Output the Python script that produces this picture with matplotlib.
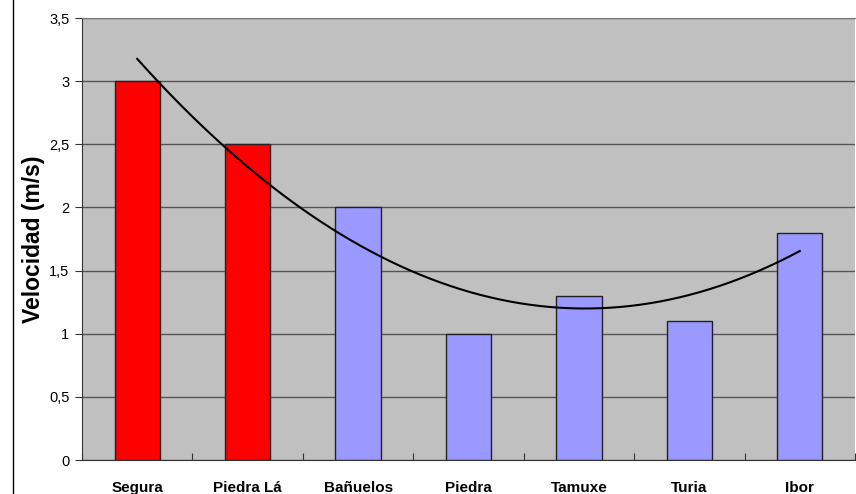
import numpy as np
import matplotlib.pyplot as plt
from matplotlib.lines import Line2D
from matplotlib.ticker import FuncFormatter

plt.rcParams['font.family'] = ['Liberation Sans', 'DejaVu Sans']

rios = ['Segura', 'Piedra Lá', 'Bañuelos', 'Piedra', 'Tamuxe', 'Turia', 'Ibor']
velocidad = [3.0, 2.5, 2.0, 1.0, 1.3, 1.1, 1.8]
colores = ['#FF0000', '#FF0000', '#9999FF', '#9999FF', '#9999FF', '#9999FF', '#9999FF']

fig = plt.figure(figsize=(8.56, 4.94), dpi=100)
ax = fig.add_axes([82/856, 34/494, 773/856, 442/494])
ax.set_facecolor('#C0C0C0')

x = np.arange(1, len(rios) + 1)
ax.bar(x, velocidad, 0.41, color=colores, edgecolor='#222222', linewidth=1, zorder=3)

# linea de tendencia polinomica de orden 2
coef = np.polyfit(x, velocidad, 2)
xt = np.linspace(1, len(rios), 200)
ax.plot(xt, np.polyval(coef, xt), color='black', linewidth=1.5, zorder=4)

ax.set_xlim(0.5, len(rios) + 0.5)
ax.set_ylim(0, 3.5)
ax.set_yticks(np.arange(0, 3.51, 0.5))
ax.yaxis.set_major_formatter(FuncFormatter(lambda v, p: ('%g' % v).replace('.', ',')))
ax.grid(axis='y', color='#555555', linewidth=1, zorder=1)

ax.set_xticks(np.arange(0.5, len(rios) + 0.6, 1))
ax.set_xticklabels([])
ax.tick_params(axis='x', direction='in', length=5, color='#333333')
ax.tick_params(axis='y', direction='out', length=5, labelsize=10.5, color='#333333', pad=4)
for xi, nombre in zip(x, rios):
    ax.text(xi, -0.22, nombre, ha='center', va='center', fontsize=11, fontweight='bold')

ax.set_ylabel('Velocidad (m/s)', fontsize=16.5, fontweight='bold', labelpad=3)

ax.spines['right'].set_visible(False)
ax.spines['top'].set_color('#777777')
ax.spines['left'].set_color('#333333')
ax.spines['bottom'].set_color('#333333')

fig.add_artist(Line2D([12.5/856, 12.5/856], [0, 1], color='black', linewidth=1))

fig.savefig('out.png', dpi=100)
